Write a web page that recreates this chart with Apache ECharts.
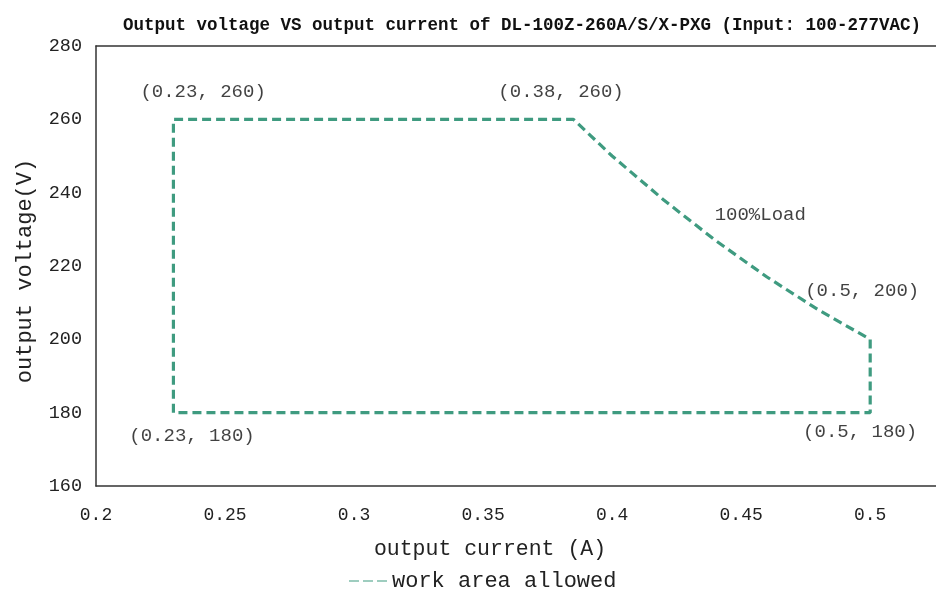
<!DOCTYPE html>
<html>
<head>
<meta charset="utf-8">
<script src="https://cdn.jsdelivr.net/npm/echarts@6/dist/echarts.min.js"></script>
<style>html,body{margin:0;padding:0;background:#fff}#c{width:936px;height:593px}</style>
</head>
<body>
<div id="c"></div>
<script>
// Data
var titleText = 'Output voltage VS output current of DL-100Z-260A/S/X-PXG (Input: 100-277VAC)';
var seriesName = 'work area allowed';
var workArea = [
  [0.23, 180], [0.23, 260], [0.385, 260], [0.40, 250], [0.42, 238],
  [0.44, 227], [0.46, 217], [0.48, 208], [0.50, 200], [0.50, 180], [0.23, 180]
];
var annotationTexts = ['(0.23, 260)', '(0.38, 260)', '100%Load', '(0.5, 200)', '(0.23, 180)', '(0.5, 180)'];
var annotationAt = [[0.2415, 267.5], [0.3802, 267.5], [0.4574, 234], [0.4969, 213.2], [0.2372, 173.6], [0.4961, 174.7]];
var xTicks = { min: 0.2, max: 0.5255, interval: 0.05 };
var yTicks = { min: 160, max: 280, interval: 20 };
var xName = 'output current (A)';
var yName = 'output voltage(V)';

var FONT = 'Liberation Mono';
var TEAL = '#3f9b80';
var chart = echarts.init(document.getElementById('c'), null, { renderer: 'canvas' });
var annData = annotationAt.map(function (p, i) { return { value: p, name: annotationTexts[i] }; });

chart.setOption({
  backgroundColor: '#fff',
  animation: false,
  title: {
    text: titleText, left: 517, top: 12, textAlign: 'center',
    textStyle: { fontFamily: FONT, fontWeight: 'bold', fontSize: 17.5, color: '#111' }
  },
  legend: {
    data: [seriesName], top: 565, left: 344,
    itemWidth: 38, itemHeight: 10, itemGap: 10,
    icon: 'path://M0,5L10,5L10,6L0,6Z M14,5L24,5L24,6L14,6Z M28,5L38,5L38,6L28,6Z',
    textStyle: { fontFamily: FONT, fontSize: 22, color: '#222' }
  },
  grid: { left: 96, right: 0, top: 46, bottom: 107, containLabel: false },
  xAxis: [{
    type: 'value', min: xTicks.min, max: xTicks.max, interval: xTicks.interval,
    name: xName, nameLocation: 'middle', nameGap: 52,
    nameTextStyle: { fontFamily: FONT, fontSize: 21.5, color: '#222', padding: [0, 52, 0, 0] },
    axisLine: { show: true, onZero: false, lineStyle: { color: '#333', width: 1.5 } },
    axisTick: { show: false }, splitLine: { show: false },
    axisLabel: { showMaxLabel: false, margin: 20, fontFamily: FONT, fontSize: 18, color: '#222',
      formatter: function (v) { return String(Math.round(v * 100) / 100); } }
  }, {
    type: 'value', position: 'top', min: xTicks.min, max: xTicks.max,
    axisLine: { show: true, onZero: false, lineStyle: { color: '#333', width: 1.5 } },
    axisTick: { show: false }, axisLabel: { show: false }, splitLine: { show: false }
  }],
  yAxis: {
    type: 'value', min: yTicks.min, max: yTicks.max, interval: yTicks.interval,
    name: yName, nameLocation: 'middle', nameGap: 60, nameRotate: 90,
    nameTextStyle: { fontFamily: FONT, fontSize: 22, color: '#222', padding: [0, 10, 0, 0] },
    axisLine: { show: true, onZero: false, lineStyle: { color: '#333', width: 1.5 } },
    axisTick: { show: false }, splitLine: { show: false },
    axisLabel: { margin: 14, fontFamily: FONT, fontSize: 18.5, color: '#222' }
  },
  series: [{
    name: seriesName, type: 'line', data: workArea, symbol: 'none',
    lineStyle: { color: TEAL, width: 3.2, type: [9, 5] },
    itemStyle: { color: TEAL }
  }, {
    type: 'scatter', data: annData, symbolSize: 0, silent: true,
    label: { show: true, position: 'inside', formatter: '{b}',
      fontFamily: FONT, fontSize: 19, color: '#111' }
  }]
});
</script>
</body>
</html>
